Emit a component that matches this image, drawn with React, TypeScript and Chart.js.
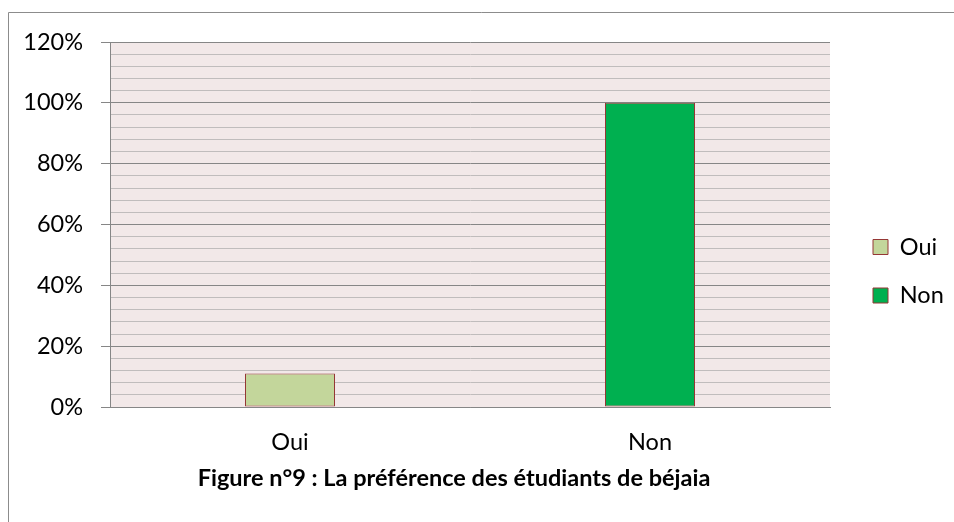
import React, { useEffect, useRef } from 'react';
import { Chart, registerables } from 'chart.js';

Chart.register(...registerables);

const categories = ['Oui', 'Non'];
const values = [0.11, 1.0];
const barColors = ['#c3d69b', '#00b050'];
const yMax = 1.2;
const yMinorStep = 0.04;
const titleText = 'Figure n°9 : La préférence des étudiants de béjaia';

const FONT = 'Lato, "Liberation Sans", sans-serif';
const FS = 23.5;
const AXIS_GRAY = '#868686';
const MINOR_GRAY = '#c0bcbc';
const BORDER_RED = '#953735';
const PLOT_BG = '#f2e8e8';
const SIDE_PAD = 4;

const isMajor = (v: number) => Math.round(v * 100) % 20 === 0;

export default function App() {
  const ref = useRef<HTMLCanvasElement>(null);

  useEffect(() => {
    const canvas = ref.current!;
    const framePlugin = {
      id: 'frame',
      beforeDraw(chart: any) {
        const { ctx, chartArea: a } = chart;
        ctx.save();
        ctx.fillStyle = '#ffffff';
        ctx.fillRect(0, 0, chart.width, chart.height);
        ctx.strokeStyle = '#8c8c8c';
        ctx.lineWidth = 1;
        ctx.beginPath();
        ctx.moveTo(54.5, chart.height);
        ctx.lineTo(54.5, 12.5);
        ctx.lineTo(chart.width, 12.5);
        ctx.stroke();
        ctx.fillStyle = PLOT_BG;
        ctx.fillRect(a.left, a.top, a.right - a.left, a.bottom - a.top);
        ctx.restore();
      },
    };

    const chart = new Chart(canvas, {
      type: 'bar',
      data: {
        labels: categories,
        datasets: [
          {
            label: 'Préférence',
            data: values,
            backgroundColor: barColors,
            borderColor: BORDER_RED,
            borderWidth: 1,
            borderSkipped: false,
            categoryPercentage: 1,
            barPercentage: 0.25,
          },
        ],
      },
      options: {
        animation: false,
        responsive: false,
        devicePixelRatio: 1,
        layout: { padding: { top: 42, left: SIDE_PAD, right: SIDE_PAD, bottom: 0 } },
        scales: {
          x: {
            type: 'category',
            grid: { display: false, drawTicks: false, tickLength: 0 },
            border: { display: true, color: AXIS_GRAY, width: 1 },
            ticks: { font: { family: FONT, size: FS }, color: '#000', padding: 21.5 },
            afterFit: (s: any) => {
              s.height = 50;
            },
          },
          y: {
            min: 0,
            max: yMax,
            ticks: {
              stepSize: yMinorStep,
              autoSkip: false,
              callback: (v: any) => (isMajor(Number(v)) ? Math.round(Number(v) * 100) + '%' : ''),
              font: { family: FONT, size: FS },
              color: '#000',
              padding: 18,
            },
            grid: {
              color: (c: any) => (c.tick && isMajor(c.tick.value) ? AXIS_GRAY : MINOR_GRAY),
              tickColor: (c: any) => (c.tick && isMajor(c.tick.value) ? AXIS_GRAY : 'rgba(0,0,0,0)'),
              tickLength: 9,
              lineWidth: 1,
            },
            border: { display: true, color: AXIS_GRAY, width: 1 },
            afterFit: (s: any) => {
              s.width = 156 - SIDE_PAD;
            },
          },
          y2: {
            type: 'linear',
            position: 'right',
            display: true,
            grid: { display: false, drawTicks: false },
            border: { display: false },
            ticks: { display: false },
            afterFit: (s: any) => {
              s.width = 18;
            },
          },
        },
        plugins: {
          legend: {
            position: 'right',
            align: 'start',
            maxWidth: 102,
            title: { display: true, text: '', font: { size: 10, lineHeight: 1 }, padding: { top: 0, bottom: 158.25 } },
            labels: {
              boxWidth: 15,
              boxHeight: 15,
              padding: 25,
              font: { family: FONT, size: FS },
              color: '#000',
              generateLabels: () =>
                categories.map((c, i) => ({
                  text: c,
                  fillStyle: barColors[i],
                  strokeStyle: BORDER_RED,
                  lineWidth: 1,
                  hidden: false,
                  index: i,
                  datasetIndex: 0,
                  fontColor: '#000',
                })),
            },
          },
          title: {
            display: true,
            position: 'bottom',
            text: titleText,
            color: '#000',
            font: { family: FONT, size: FS, weight: 'bold', lineHeight: 1.2 },
            padding: { top: 6.9, bottom: 29.9 },
          },
          tooltip: { enabled: false },
        },
      },
      plugins: [framePlugin],
    });
    return () => chart.destroy();
  }, []);

  return (
    <div style={{ position: 'absolute', left: -46, top: 0, width: 1000, height: 522 }}>
      <canvas ref={ref} width={1000} height={522} style={{ display: 'block', width: 1000, height: 522 }} />
    </div>
  );
}
